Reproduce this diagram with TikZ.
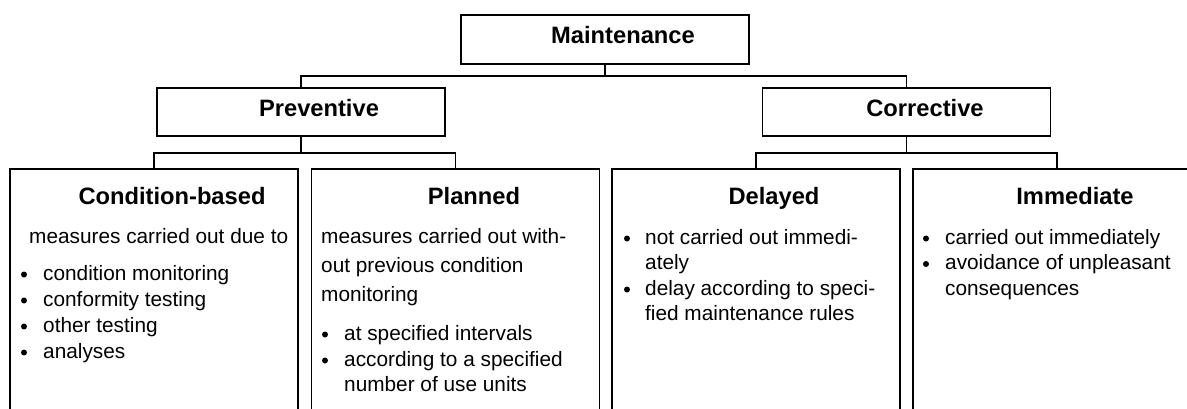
\documentclass[tikz,border=0pt]{standalone}
\usepackage{fontspec}
\setmainfont{Liberation Sans}
\begin{document}
\begin{tikzpicture}[x=1pt,y=-1pt,
  box/.style={draw, line width=1.7pt, rectangle, inner sep=0pt, minimum width=288pt},
  title/.style={anchor=base, inner sep=0pt, font=\fontsize{23.7}{28}\selectfont\bfseries},
  body/.style={anchor=base west, inner sep=0pt, font=\fontsize{20.8}{25}\selectfont},
  dot/.style={circle, fill, inner sep=0pt, minimum size=6pt, yshift=5.5pt},
  link/.style={line width=1.7pt}]
\useasboundingbox (0,0) rectangle (1187,408);
\clip (0,0) rectangle (1187,408);

% top level
\node[box, minimum height=49pt] (maint) at (605,39.5) {};
\node[title] (tmaint) at (623,43) {Maintenance};

% second level
\node[box, minimum height=48pt] (prev) at (301,112) {};
\node[title] (tprev) at (319,116) {Preventive};
\node[box, minimum height=48pt] (corr) at (906.5,112) {};
\node[title] (tcorr) at (925,116) {Corrective};

% third level (boxes run past the lower and right edges)
\node[box, minimum height=271pt] (cond) at (154,304.5) {};
\node[box, minimum height=271pt] (plan) at (455.5,304.5) {};
\node[box, minimum height=271pt] (del) at (756,304.5) {};
\node[box, minimum height=271pt] (imm) at (1057,304.5) {};
\node[title] (tcond) at (172,204) {Condition-based};
\node[title] (tplan) at (474,204) {Planned};
\node[title] (tdel) at (774,204) {Delayed};
\node[title] (timm) at (1075,204) {Immediate};

% connectors
\coordinate (mj) at (605,76);
\draw[link] (maint.south) -- (mj);
\draw[link] (prev.north) |- (mj) -| (corr.north);
\coordinate (pj) at (301,153);
\draw[link] (prev.south) -- (pj);
\draw[link] (cond.north) |- (pj) -| (plan.north);
\coordinate (cj) at (906.5,153);
\draw[link] (corr.south) -- (cj);
\draw[link] (del.north) |- (cj) -| (imm.north);

% Condition-based
\node[body] (c0) at (29,243) {measures carried out due to};
\node[dot] (cb1) at (24,280) {};
\node[body] (c1) at (43,280) {condition monitoring};
\node[dot] (cb2) at (24,306) {};
\node[body] (c2) at (43,306) {conformity testing};
\node[dot] (cb3) at (24,332) {};
\node[body] (c3) at (43,332) {other testing};
\node[dot] (cb4) at (24,358) {};
\node[body] (c4) at (43,358) {analyses};

% Planned
\node[body] (p0) at (321,243) {measures carried out with-};
\node[body] (p1) at (321,272.5) {out previous condition};
\node[body] (p2) at (321,301.5) {monitoring};
\node[dot] (pb1) at (325,340) {};
\node[body] (p3) at (344,340) {at specified intervals};
\node[dot] (pb2) at (325,366) {};
\node[body] (p4) at (344,366) {according to a specified};
\node[body] (p5) at (344,391) {number of use units};

% Delayed
\node[dot] (db1) at (627,244) {};
\node[body] (d1) at (645,244) {not carried out immedi-};
\node[body] (d2) at (645,269.5) {ately};
\node[dot] (db2) at (627,295) {};
\node[body] (d3) at (645,295) {delay according to speci-};
\node[body] (d4) at (645,320.5) {fied maintenance rules};

% Immediate
\node[dot] (ib1) at (926,244) {};
\node[body] (i1) at (945,244) {carried out immediately};
\node[dot] (ib2) at (926,269.5) {};
\node[body] (i2) at (945,269.5) {avoidance of unpleasant};
\node[body] (i3) at (945,295) {consequences};
\end{tikzpicture}
\end{document}
